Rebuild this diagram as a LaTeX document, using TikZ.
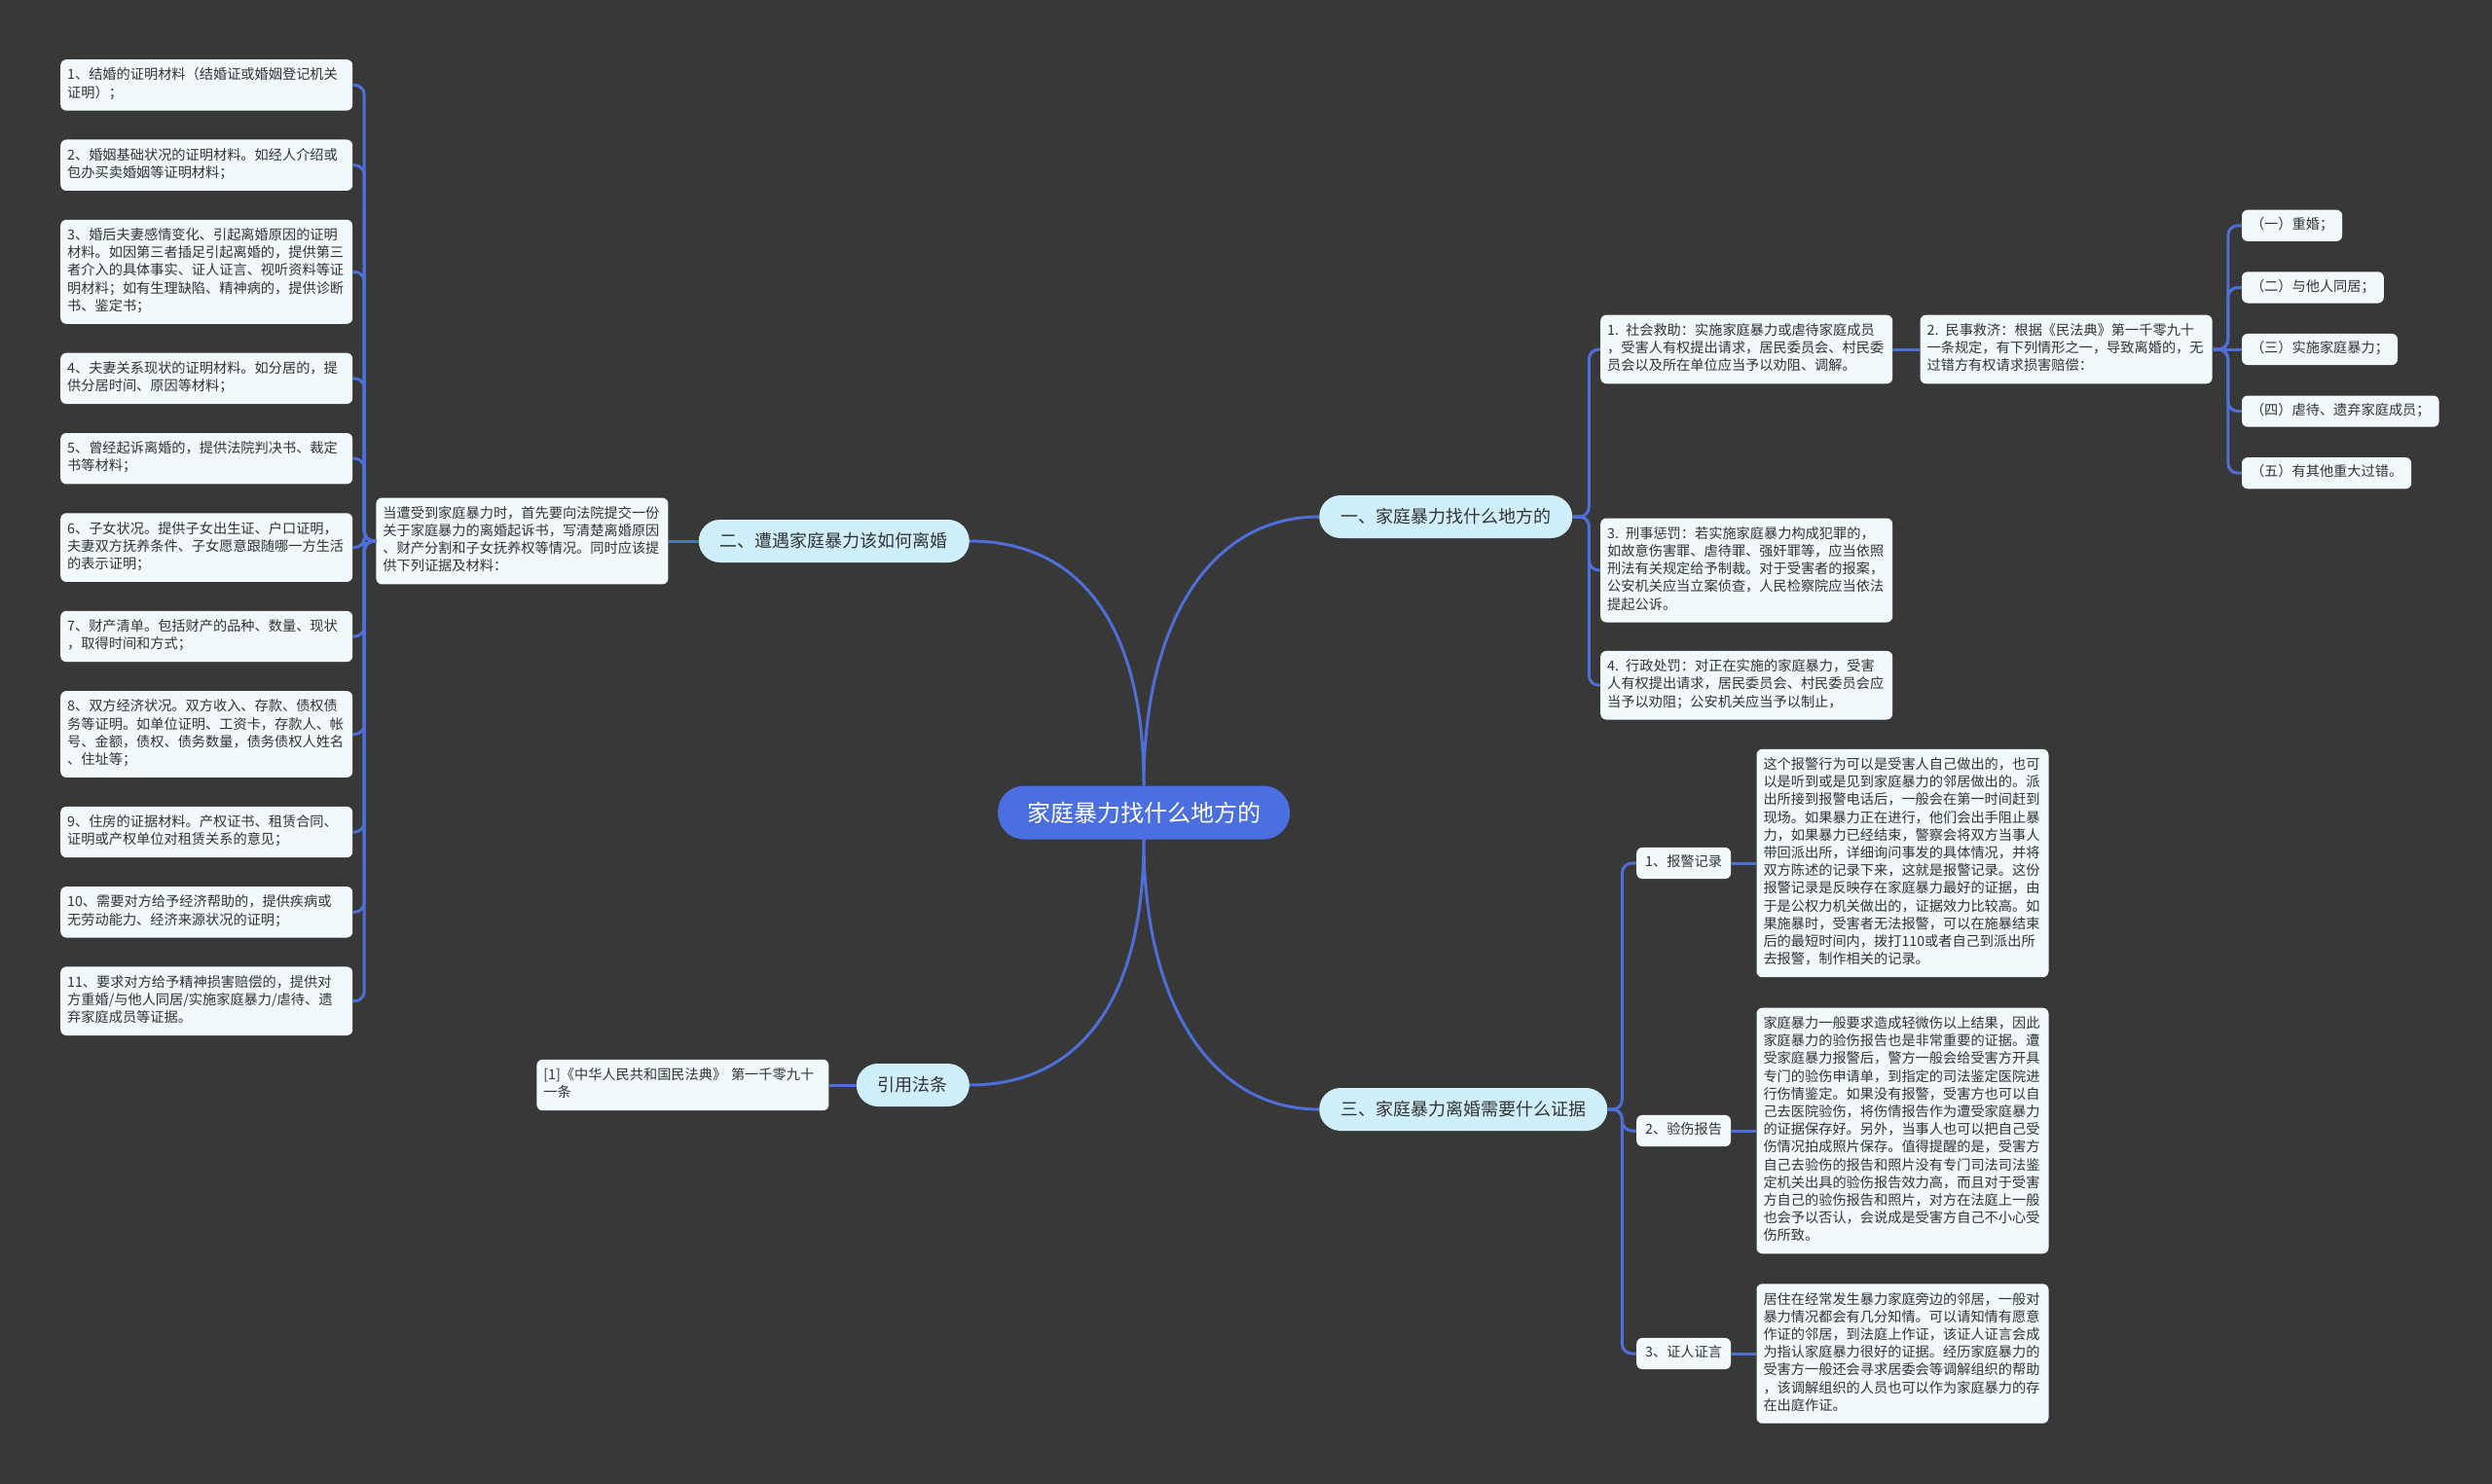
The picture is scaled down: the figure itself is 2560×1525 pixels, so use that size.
\documentclass[tikz,border=0pt]{standalone}
\usepackage{fontspec}
\setmainfont{Noto Sans CJK SC}
\usepackage{tikz}
\usetikzlibrary{positioning}

\definecolor{bgcol}{HTML}{383838}
\definecolor{linkcol}{HTML}{4E6FD8}
\definecolor{rootcol}{HTML}{4B6FE0}
\definecolor{branchcol}{HTML}{CFEFFC}
\definecolor{leafcol}{HTML}{F0FAFC}
\definecolor{textcol}{HTML}{333333}

\newcommand\leaffont{\fontsize{14.2}{18.2}\selectfont}
\newcommand\branchfont{\fontsize{18}{22}\selectfont}
\newcommand\rootfont{\fontsize{24}{28}\selectfont}

\begin{document}
\begin{tikzpicture}[x=1pt, y=-1pt,
	rootbox/.style={fill=rootcol, text=white, font=\rootfont, rounded corners=27pt, minimum height=55pt, inner xsep=30pt},
	branchbox/.style={fill=branchcol, text=textcol, font=\branchfont, rounded corners=22pt, minimum height=44pt, inner xsep=22pt},
	leafbox/.style={fill=leafcol, text=textcol, font=\leaffont, rounded corners=6pt, text width=286pt, align=left, inner xsep=7pt, inner ysep=8pt, execute at begin node=\strut, execute at end node=\strut},
	tagbox/.style={fill=leafcol, text=textcol, font=\leaffont, rounded corners=6pt, inner xsep=9pt, inner ysep=7pt, execute at begin node=\strut},
	link/.style={draw=linkcol, line width=3pt, rounded corners=10pt}]
	\fill[bgcol] (0,0) rectangle (2560,1525);

	% centre and main branches
	\node[rootbox] (root) at (1175,835) {家庭暴力找什么地方的};
	\node[branchbox, anchor=west] (b1) at (1355,531) {一、家庭暴力找什么地方的};
	\node[branchbox, anchor=east] (b2) at (996,556) {二、遭遇家庭暴力该如何离婚};
	\node[branchbox, anchor=west] (b3) at (1355,1140) {三、家庭暴力离婚需要什么证据};
	\node[branchbox, anchor=east] (b4) at (996,1115) {引用法条};

	% left: materials
	\node[leafbox, left=31pt of b2] (divorce) {当遭受到家庭暴力时，首先要向法院提交一份\\关于家庭暴力的离婚起诉书，写清楚离婚原因\\、财产分割和子女抚养权等情况。同时应该提\\供下列证据及材料：};
	\node[leafbox, anchor=north west] (m1) at (62,61) {1、结婚的证明材料（结婚证或婚姻登记机关\\证明）；};
	\node[leafbox, below=29.5pt of m1] (m2) {2、婚姻基础状况的证明材料。如经人介绍或\\包办买卖婚姻等证明材料；};
	\node[leafbox, below=29.5pt of m2] (m3) {3、婚后夫妻感情变化、引起离婚原因的证明\\材料。如因第三者插足引起离婚的，提供第三\\者介入的具体事实、证人证言、视听资料等证\\明材料；如有生理缺陷、精神病的，提供诊断\\书、鉴定书；};
	\node[leafbox, below=29.5pt of m3] (m4) {4、夫妻关系现状的证明材料。如分居的，提\\供分居时间、原因等材料；};
	\node[leafbox, below=29.5pt of m4] (m5) {5、曾经起诉离婚的，提供法院判决书、裁定\\书等材料；};
	\node[leafbox, below=29.5pt of m5] (m6) {6、子女状况。提供子女出生证、户口证明，\\夫妻双方抚养条件、子女愿意跟随哪一方生活\\的表示证明；};
	\node[leafbox, below=29.5pt of m6] (m7) {7、财产清单。包括财产的品种、数量、现状\\，取得时间和方式；};
	\node[leafbox, below=29.5pt of m7] (m8) {8、双方经济状况。双方收入、存款、债权债\\务等证明。如单位证明、工资卡，存款人、帐\\号、金额，债权、债务数量，债务债权人姓名\\、住址等；};
	\node[leafbox, below=29.5pt of m8] (m9) {9、住房的证据材料。产权证书、租赁合同、\\证明或产权单位对租赁关系的意见；};
	\node[leafbox, below=29.5pt of m9] (m10) {10、需要对方给予经济帮助的，提供疾病或\\无劳动能力、经济来源状况的证明；};
	\node[leafbox, below=29.5pt of m10] (m11) {11、要求对方给予精神损害赔偿的，提供对\\方重婚/与他人同居/实施家庭暴力/虐待、遗\\弃家庭成员等证据。};

	% right top: remedies
	\node[leafbox, anchor=west] (aid) at (1644,359) {1. 社会救助：实施家庭暴力或虐待家庭成员\\，受害人有权提出请求，居民委员会、村民委\\员会以及所在单位应当予以劝阻、调解。};
	\node[leafbox, right=28pt of aid] (civil) {2. 民事救济：根据《民法典》第一千零九十\\一条规定，有下列情形之一，导致离婚的，无\\过错方有权请求损害赔偿：};
	\node[leafbox, anchor=west] (crime) at (1644,586) {3. 刑事惩罚：若实施家庭暴力构成犯罪的，\\如故意伤害罪、虐待罪、强奸罪等，应当依照\\刑法有关规定给予制裁。对于受害者的报案，\\公安机关应当立案侦查，人民检察院应当依法\\提起公诉。};
	\node[leafbox, below=29pt of crime] (admin) {4. 行政处罚：对正在实施的家庭暴力，受害\\人有权提出请求，居民委员会、村民委员会应\\当予以劝阻；公安机关应当予以制止，};
	\node[tagbox, right=30pt of civil] (g3) {（三）实施家庭暴力；};
	\node[tagbox, above=31pt of g3.north west, anchor=south west] (g2) {（二）与他人同居；};
	\node[tagbox, above=31pt of g2.north west, anchor=south west] (g1) {（一）重婚；};
	\node[tagbox, below=31pt of g3.south west, anchor=north west] (g4) {（四）虐待、遗弃家庭成员；};
	\node[tagbox, below=31pt of g4.south west, anchor=north west] (g5) {（五）有其他重大过错。};

	% right bottom: evidence
	\node[tagbox, anchor=west] (e1) at (1681,887) {1、报警记录};
	\node[tagbox, anchor=west] (e2) at (1681,1162) {2、验伤报告};
	\node[tagbox, anchor=west] (e3) at (1681,1391) {3、证人证言};
	\node[leafbox, right=26pt of e1] (e1t) {这个报警行为可以是受害人自己做出的，也可\\以是听到或是见到家庭暴力的邻居做出的。派\\出所接到报警电话后，一般会在第一时间赶到\\现场。如果暴力正在进行，他们会出手阻止暴\\力，如果暴力已经结束，警察会将双方当事人\\带回派出所，详细询问事发的具体情况，并将\\双方陈述的记录下来，这就是报警记录。这份\\报警记录是反映存在家庭暴力最好的证据，由\\于是公权力机关做出的，证据效力比较高。如\\果施暴时，受害者无法报警，可以在施暴结束\\后的最短时间内，拨打110或者自己到派出所\\去报警，制作相关的记录。};
	\node[leafbox, right=26pt of e2] (e2t) {家庭暴力一般要求造成轻微伤以上结果，因此\\家庭暴力的验伤报告也是非常重要的证据。遭\\受家庭暴力报警后，警方一般会给受害方开具\\专门的验伤申请单，到指定的司法鉴定医院进\\行伤情鉴定。如果没有报警，受害方也可以自\\己去医院验伤，将伤情报告作为遭受家庭暴力\\的证据保存好。另外，当事人也可以把自己受\\伤情况拍成照片保存。值得提醒的是，受害方\\自己去验伤的报告和照片没有专门司法司法鉴\\定机关出具的验伤报告效力高，而且对于受害\\方自己的验伤报告和照片，对方在法庭上一般\\也会予以否认，会说成是受害方自己不小心受\\伤所致。};
	\node[leafbox, right=26pt of e3] (e3t) {居住在经常发生暴力家庭旁边的邻居，一般对\\暴力情况都会有几分知情。可以请知情有愿意\\作证的邻居，到法庭上作证，该证人证言会成\\为指认家庭暴力很好的证据。经历家庭暴力的\\受害方一般还会寻求居委会等调解组织的帮助\\，该调解组织的人员也可以作为家庭暴力的存\\在出庭作证。};

	% citation
	\node[leafbox, left=28pt of b4] (cite) {[1]《中华人民共和国民法典》 第一千零九十\\一条};

	% connectors
	\draw[link] (root.north) .. controls +(0,-170) and +(-110,0) .. (b1.west);
	\draw[link] (root.north) .. controls +(0,-170) and +(110,0) .. (b2.east);
	\draw[link] (root.south) .. controls +(0,170) and +(-110,0) .. (b3.west);
	\draw[link] (root.south) .. controls +(0,170) and +(110,0) .. (b4.east);

	\draw[link] (b2.west) -- (divorce.east);
	\draw[link] (divorce.west) -- ++(-12,0) |- (m1.east);
	\draw[link] (divorce.west) -- ++(-12,0) |- (m2.east);
	\draw[link] (divorce.west) -- ++(-12,0) |- (m3.east);
	\draw[link] (divorce.west) -- ++(-12,0) |- (m4.east);
	\draw[link] (divorce.west) -- ++(-12,0) |- (m5.east);
	\draw[link] (divorce.west) -- ++(-12,0) |- (m6.east);
	\draw[link] (divorce.west) -- ++(-12,0) |- (m7.east);
	\draw[link] (divorce.west) -- ++(-12,0) |- (m8.east);
	\draw[link] (divorce.west) -- ++(-12,0) |- (m9.east);
	\draw[link] (divorce.west) -- ++(-12,0) |- (m10.east);
	\draw[link] (divorce.west) -- ++(-12,0) |- (m11.east);

	\draw[link] (b1.east) -- ++(17,0) |- (aid.west);
	\draw[link] (b1.east) -- ++(17,0) |- (crime.west);
	\draw[link] (b1.east) -- ++(17,0) |- (admin.west);
	\draw[link] (aid.east) -- (civil.west);
	\draw[link] (civil.east) -- ++(16,0) |- (g1.west);
	\draw[link] (civil.east) -- ++(16,0) |- (g2.west);
	\draw[link] (civil.east) -- (g3.west);
	\draw[link] (civil.east) -- ++(16,0) |- (g4.west);
	\draw[link] (civil.east) -- ++(16,0) |- (g5.west);

	\draw[link] (b3.east) -- ++(15,0) |- (e1.west);
	\draw[link] (b3.east) -- ++(15,0) |- (e2.west);
	\draw[link] (b3.east) -- ++(15,0) |- (e3.west);
	\draw[link] (e1.east) -- (e1t.west);
	\draw[link] (e2.east) -- (e2t.west);
	\draw[link] (e3.east) -- (e3t.west);

	\draw[link] (b4.west) -- (cite.east);
\end{tikzpicture}
\end{document}
